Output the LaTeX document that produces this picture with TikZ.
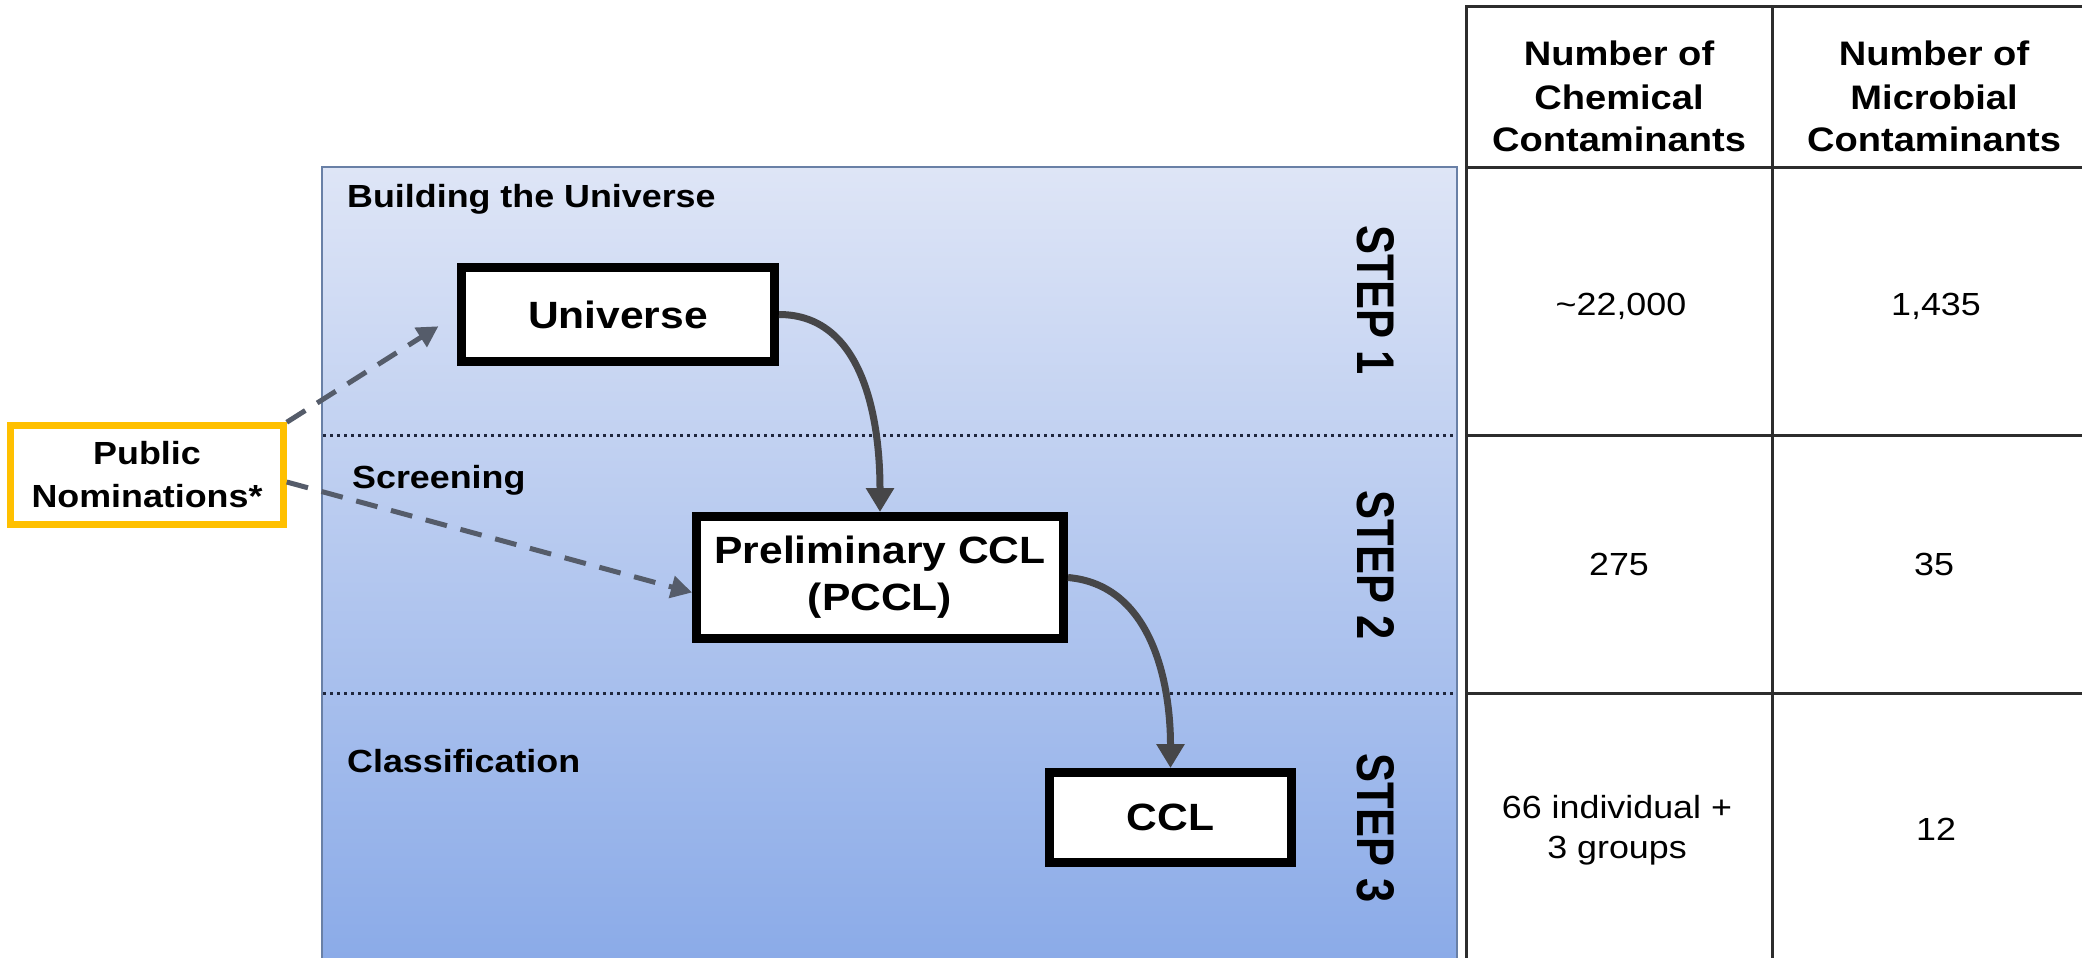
\documentclass[tikz,border=0pt]{standalone}
\usepackage{fontspec}
\setmainfont{Liberation Sans}[FakeStretch=1.12]
\newfontfamily\stepfont{Liberation Sans}[FakeStretch=0.82]
\usetikzlibrary{arrows.meta}

\definecolor{panelTop}{RGB}{222,229,246}
\definecolor{panelBot}{RGB}{139,171,232}
\definecolor{panelEdge}{RGB}{105,128,166}
\definecolor{dotline}{RGB}{30,38,60}
\definecolor{flowgray}{RGB}{70,70,72}
\definecolor{nomgray}{RGB}{85,92,106}
\definecolor{nomorange}{RGB}{255,192,0}
\definecolor{gridline}{RGB}{45,45,45}

\tikzset{
  stagebox/.style={draw=black, line width=9pt, fill=white, inner sep=0pt, align=center,
    font=\fontsize{38}{47}\selectfont\bfseries},
  nombox/.style={draw=nomorange, line width=6.5pt, fill=white, inner sep=0pt, align=center,
    font=\fontsize{32}{43}\selectfont\bfseries},
  phase/.style={anchor=base west, inner sep=0pt, font=\fontsize{32}{38}\selectfont\bfseries},
  steplabel/.style={rotate=-90, inner sep=0pt, font=\stepfont\fontsize{53}{60}\selectfont\bfseries},
  flow/.style={draw=flowgray, line width=7pt, -{Triangle[length=24pt,width=27pt]}},
  nomflow/.style={draw=nomgray, line width=5pt, dash pattern=on 22pt off 14pt,
    -{Triangle[length=21pt,width=22pt]}},
  stagesep/.style={draw=dotline, line width=3pt, dash pattern=on 3pt off 4pt},
  grid/.style={draw=gridline, line width=3pt},
  hdr/.style={anchor=base, inner sep=0pt, font=\fontsize{34}{40}\selectfont\bfseries},
  cell/.style={anchor=base, inner sep=0pt, font=\fontsize{32}{38}\selectfont},
}

\begin{document}
\begin{tikzpicture}[x=1pt,y=-1pt]
\useasboundingbox (0,0) rectangle (2082,958);

% shaded process panel
\shade[top color=panelTop, bottom color=panelBot] (322,167) rectangle (1457,958);
\draw[panelEdge, line width=2.5pt] (322,958) -- (322,167) -- (1457,167) -- (1457,958);

% dotted separators between the three steps
\coordinate (s1l) at (323,435);  \coordinate (s1r) at (1456,435);
\coordinate (s2l) at (323,693);  \coordinate (s2r) at (1456,693);
\draw[stagesep] (s1l) -- (s1r);
\draw[stagesep] (s2l) -- (s2r);

% phase titles
\node[phase] (ph1) at (347,207) {Building the Universe};
\node[phase] (ph2) at (352,488) {Screening};
\node[phase] (ph3) at (347,772) {Classification};

% step labels
\node[steplabel] (st1) at (1376,300) {STEP 1};
\node[steplabel] (st2) at (1376,565) {STEP 2};
\node[steplabel] (st3) at (1376,828) {STEP 3};

% list boxes
\node[stagebox, minimum width=313pt, minimum height=94pt] (univ) at (618,314.5) {Universe};
\node[stagebox, minimum width=367pt, minimum height=122pt] (pccl) at (880,577.5)
  {Preliminary CCL\\(PCCL)};
\node[stagebox, minimum width=242pt, minimum height=90pt] (ccl) at (1170.5,817.5) {CCL};

% nominations box
\node[nombox, minimum width=273pt, minimum height=99pt] (nom) at (147,475)
  {Public\\Nominations*};

% flow between lists
\draw[flow] (univ.east) to[out=0,in=90] (pccl.north);
\draw[flow] (pccl.east) to[out=-5,in=90] (ccl.north);

% nominations feeding the lists
\draw[nomflow, shorten >=22pt] (nom.north east) -- (univ.west);
\draw[nomflow] ([yshift=-7pt]nom.east) -- ([yshift=-15pt]pccl.west);

% table grid
\coordinate (tl) at (1466,7);    \coordinate (tr) at (2082,7);
\coordinate (tb) at (1466,958);
\coordinate (h1) at (1466,167);  \coordinate (h2) at (2082,167);
\coordinate (r1) at (1466,435);  \coordinate (r2) at (2082,435);
\coordinate (q1) at (1466,693);  \coordinate (q2) at (2082,693);
\coordinate (ct) at (1772,7);    \coordinate (cb) at (1772,958);
\draw[grid] (tb) -- (tl) -- (tr);
\draw[grid] (h1) -- (h2);
\draw[grid] (r1) -- (r2);
\draw[grid] (q1) -- (q2);
\draw[grid] (ct) -- (cb);

% table header
\node[hdr] (ca1) at (1619,66)  {Number of};
\node[hdr] (ca2) at (1619,109) {Chemical};
\node[hdr] (ca3) at (1619,151) {Contaminants};
\node[hdr] (mb1) at (1934,66)  {Number of};
\node[hdr] (mb2) at (1934,109) {Microbial};
\node[hdr] (mb3) at (1934,151) {Contaminants};

% table values
\node[cell] (v11) at (1621,315) {\char`\~22,000};
\node[cell] (v12) at (1936,315) {1,435};
\node[cell] (v21) at (1619,575) {275};
\node[cell] (v22) at (1934,575) {35};
\node[cell] (v31) at (1617,818) {66 individual +};
\node[cell] (v31b) at (1617,858) {3 groups};
\node[cell] (v32) at (1936,840) {12};
\end{tikzpicture}
\end{document}
